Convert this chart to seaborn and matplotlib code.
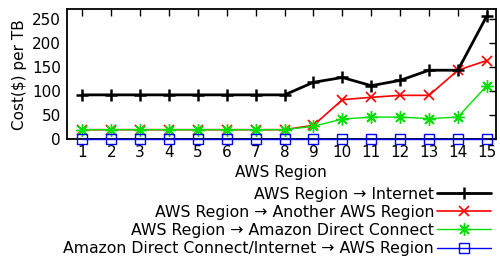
import matplotlib
matplotlib.use("Agg")
import seaborn as sns
import matplotlib.pyplot as plt

# Data
regions = list(range(1, 16))
internet = [92, 92, 92, 92, 92, 92, 92, 92, 118, 128, 111, 122, 143, 143, 255]
another_region = [20, 20, 20, 20, 20, 20, 20, 20, 29, 82, 87, 91, 91, 143, 163]
direct_connect = [20, 20, 20, 20, 20, 20, 20, 20, 27, 42, 46, 46, 43, 46, 111]
inbound = [0] * 15
labels = [
    "AWS Region \u2192 Internet",
    "AWS Region \u2192 Another AWS Region",
    "AWS Region \u2192 Amazon Direct Connect",
    "Amazon Direct Connect/Internet \u2192 AWS Region",
]

sns.set_style("white")
plt.rcParams["font.family"] = ["DejaVu Sans"]
plt.rcParams["text.color"] = "black"
plt.rcParams["axes.labelcolor"] = "black"

fig = plt.figure(figsize=(5, 2.59), dpi=100)
ax = fig.add_axes([0.133, 0.462, 0.859, 0.502])

sns.lineplot(x=regions, y=internet, ax=ax, color="black", lw=2, marker="+",
             markersize=8.5, mew=1.8, markeredgecolor="black", label=labels[0],
             clip_on=False, zorder=4)
sns.lineplot(x=regions, y=another_region, ax=ax, color="red", lw=1.2, marker="x",
             markersize=7, mew=1.2, markeredgecolor="red", label=labels[1],
             clip_on=False, zorder=3)
sns.lineplot(x=regions, y=direct_connect, ax=ax, color="#00e000", lw=1, marker=(8, 2, 0),
             markersize=9, mew=1, markeredgecolor="#00e000", label=labels[2],
             clip_on=False, zorder=3)
sns.lineplot(x=regions, y=inbound, ax=ax, color="blue", lw=1, marker="s",
             markersize=6.5, mew=1, markerfacecolor="none", markeredgecolor="blue",
             label=labels[3], clip_on=False, zorder=3)

ax.set_xlim(0.45, 15.32)
ax.set_ylim(0, 269)
ax.set_xticks(regions)
ax.set_yticks([0, 50, 100, 150, 200, 250])
ax.tick_params(direction="in", length=5, width=1, top=True, right=True,
               labelsize=11, pad=4, colors="black")
for s in ax.spines.values():
    s.set_color("black")
    s.set_linewidth(1.3)
ax.set_xlabel("AWS Region", fontsize=11, labelpad=4)
ax.set_ylabel("Cost($) per TB", fontsize=11, labelpad=4)

handles, labs = ax.get_legend_handles_labels()
ax.get_legend().remove()
fig.legend(handles, labs, loc="lower right", bbox_to_anchor=(1.008, -0.037),
           markerfirst=False, frameon=False, fontsize=11.3, handlelength=3.5,
           labelspacing=0.2, handletextpad=0.15, borderpad=0.3)

fig.savefig("out.png", dpi=100)
